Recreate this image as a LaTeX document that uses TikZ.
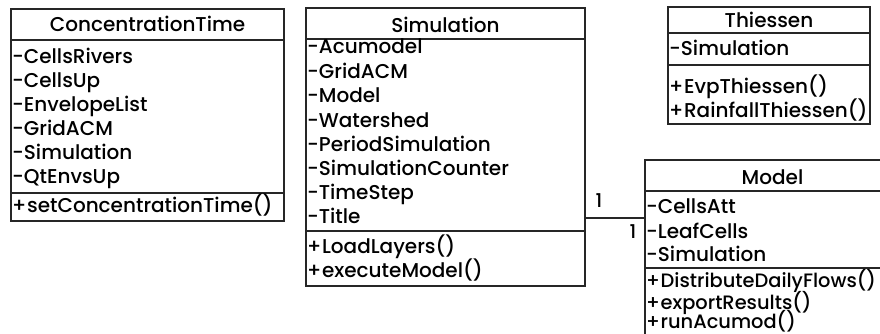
\documentclass[tikz,border=0pt]{standalone}
\usepackage{fontspec}
\setmainfont{Poppins}[UprightFont=* Medium]
\newcommand{\pls}{+\kern0.6pt}
\begin{document}
\begin{tikzpicture}[x=1pt,y=-1pt,
  umlbox/.style={draw=black!85, line width=1.3pt, anchor=north west, inner sep=0pt, outer sep=0pt},
  divline/.style={draw=black!85, line width=1.5pt},
  ttl/.style={anchor=base, inner sep=0pt, font=\fontsize{20}{23}\selectfont},
  itm/.style={anchor=base west, inner sep=0pt, font=\fontsize{20}{23}\selectfont},
  itms/.style={anchor=base west, inner sep=0pt, font=\fontsize{19.4}{22}\selectfont},
  mult/.style={anchor=base, inner sep=0pt, font=\fontsize{19}{22}\selectfont},
  conn/.style={draw=black!85, line width=1.2pt}]
\useasboundingbox (0,0) rectangle (880,333);
\fill[white] (0,0) rectangle (880,333);
\clip (0,0) rectangle (880,333);

% ConcentrationTime
\node[umlbox, minimum width=273pt, minimum height=212pt] (ct) at (11,9) {};
\draw[divline] (11,40) -- (284,40);
\draw[divline] (11,193) -- (284,193);
\node[ttl] (ctT) at (147.5,31) {ConcentrationTime};
\node[itm] (ct1) at (12,63) {-CellsRivers};
\node[itm] (ct2) at (12,87) {-CellsUp};
\node[itm] (ct3) at (12,111) {-EnvelopeList};
\node[itm] (ct4) at (12,135) {-GridACM};
\node[itm] (ct5) at (12,159) {-Simulation};
\node[itm] (ct6) at (12,183) {-QtEnvsUp};
\node[itm] (ctm1) at (12,212) {\pls setConcentrationTime()};

% Simulation
\node[umlbox, minimum width=279pt, minimum height=278pt] (sim) at (306,8) {};
\draw[divline] (306,39) -- (585,39);
\draw[divline] (306,231) -- (585,231);
\node[ttl] (simT) at (445.5,32) {Simulation};
\node[itm] (s1) at (307,53) {-Acumodel};
\node[itm] (s2) at (307,78) {-GridACM};
\node[itm] (s3) at (307,102) {-Model};
\node[itm] (s4) at (307,127) {-Watershed};
\node[itm] (s5) at (307,151) {-PeriodSimulation};
\node[itm] (s6) at (307,175) {-SimulationCounter};
\node[itm] (s7) at (307,199) {-TimeStep};
\node[itm] (s8) at (307,223) {-Title};
\node[itm] (sm1) at (307,253) {\pls LoadLayers()};
\node[itm] (sm2) at (307,277) {\pls executeModel()};

% Thiessen
\node[umlbox, minimum width=202pt, minimum height=117pt] (th) at (668,7) {};
\draw[divline] (668,33) -- (870,33);
\draw[divline] (668,65) -- (870,65);
\node[ttl] (thT) at (769,27) {Thiessen};
\node[itm] (th1) at (669,55) {-Simulation};
\node[itm] (thm1) at (669,93) {\pls EvpThiessen()};
\node[itm] (thm2) at (669,117) {\pls RainfallThiessen()};

% Model
\node[umlbox, minimum width=255pt, minimum height=200pt] (mod) at (645,160) {};
\draw[divline] (645,191) -- (900,191);
\draw[divline] (645,268) -- (900,268);
\node[ttl] (modT) at (772.5,184) {Model};
\node[itm] (m1) at (646,213) {-CellsAtt};
\node[itm] (m2) at (646,238) {-LeafCells};
\node[itm] (m3) at (646,261) {-Simulation};
\node[itms] (mm1) at (646,287) {\pls DistributeDailyFlows()};
\node[itms] (mm2) at (646,309) {\pls exportResults()};
\node[itms] (mm3) at (646,328) {\pls runAcumod()};

% association
\coordinate (lk) at (615,218);
\draw[conn] (sim.east |- lk) -- (mod.west |- lk);
\node[mult] (mA) at (599,207) {1};
\node[mult] (mB) at (633,238) {1};
\end{tikzpicture}
\end{document}
